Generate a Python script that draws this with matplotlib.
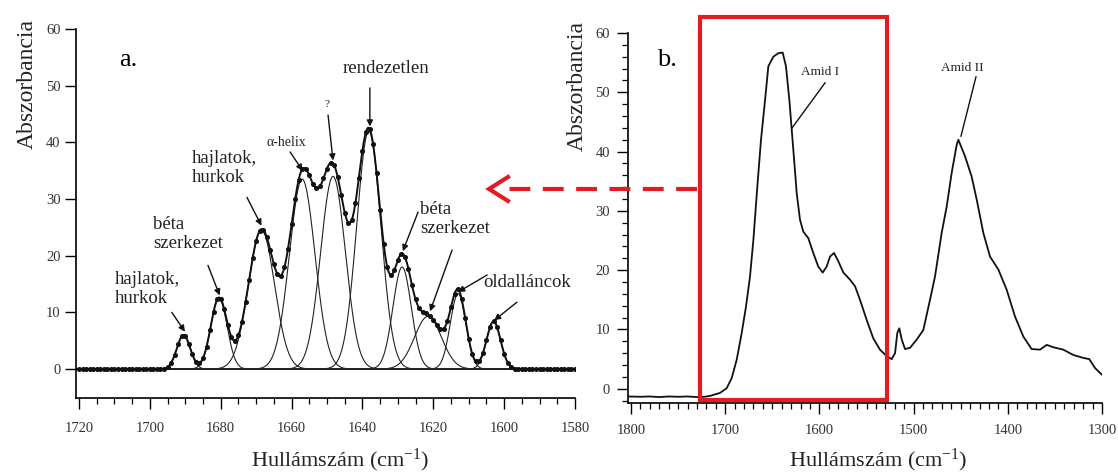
import matplotlib.pyplot as plt
import numpy as np
from matplotlib.lines import Line2D
from matplotlib.patches import Rectangle
from matplotlib.ticker import MultipleLocator

plt.rcParams['font.family'] = ['Liberation Serif', 'DejaVu Serif']
plt.rcParams['mathtext.fontset'] = 'custom'
plt.rcParams['mathtext.rm'] = 'Liberation Serif'
plt.rcParams['mathtext.it'] = 'Liberation Serif:italic'

# a. ábra: illesztett sávok (centrum cm-1, magasság, szélesség)
band_center = [1690.5, 1680.5, 1668.5, 1657.0, 1648.3, 1638.2, 1628.8, 1621.5, 1613.0, 1603.0]
band_height = [6.0, 12.5, 24.5, 33.5, 34.0, 42.0, 18.0, 9.3, 13.3, 8.4]
band_width = [1.9, 2.3, 3.7, 3.6, 3.5, 3.4, 2.6, 3.8, 2.2, 2.0]

# b. ábra: mért spektrum
spec_wn = [1803, 1790, 1780, 1770, 1760, 1750, 1740, 1730, 1722, 1716, 1705.5, 1698.4,
           1693.1, 1687.8, 1682.5, 1677.9, 1673.7, 1670.1, 1665.9, 1662.0, 1657.7,
           1654.2, 1648.9, 1643.6, 1639.0, 1635.5, 1631.9, 1629.4, 1626.6, 1624.1,
           1620.6, 1617.1, 1611.8, 1606.5, 1601.2, 1596.5, 1592.3, 1588.7, 1584.5,
           1579.9, 1574.6, 1567.5, 1562.2, 1556.9, 1549.8, 1542.8, 1535.7, 1528.6,
           1523.3, 1519.7, 1517.3, 1515.2, 1512.6, 1509.1, 1503.8, 1496.7, 1489.7,
           1482.6, 1477.3, 1470.2, 1464.9, 1459.6, 1454.3, 1452.5, 1445.4, 1438.4,
           1433.0, 1426.0, 1418.9, 1410.0, 1401.2, 1392.4, 1383.5, 1374.7, 1365.8,
           1358.7, 1351.7, 1341.1, 1330.5, 1319.8, 1313.5, 1307.4, 1300.3]
spec_abs = [-1.3, -1.35, -1.3, -1.4, -1.3, -1.35, -1.3, -1.4, -1.35, -1.2, -0.7, 0.1,
            1.8, 4.9, 9.4, 13.9, 18.9, 25.1, 34.1, 42.0, 48.7,
            54.4, 56.0, 56.6, 56.7, 54.4, 48.7, 43.7, 38.1, 33.0,
            28.5, 26.5, 25.4, 22.9, 20.6, 19.6, 20.6, 22.3, 22.9,
            21.5, 19.6, 18.4, 17.3, 15.0, 11.6, 8.5, 6.6, 5.5,
            5.0, 6.0, 9.4, 10.2, 8.3, 6.7, 6.9, 8.3, 9.9,
            15.0, 18.9, 26.3, 30.7, 36.4, 41.1, 42.0, 39.2, 35.8,
            31.9, 26.3, 22.3, 20.1, 16.7, 12.2, 8.8, 6.7, 6.6,
            7.4, 7.0, 6.6, 5.7, 5.2, 5.0, 3.5, 2.4]

W, H = 1118, 473
red = '#e31b23'
tick_col = '#333333'

fig = plt.figure(figsize=(W / 100, H / 100), dpi=100)
ax_a = fig.add_axes([76 / W, 1 - 398 / H, (575 - 76) / W, (398 - 29) / H])
ax_b = fig.add_axes([628 / W, 1 - 403 / H, (1102 - 628) / W, (403 - 33) / H])

# --- a. panel ---
wn_fine = np.linspace(1720.85, 1580, 1200)
wn_dots = np.arange(1720, 1579, -1.0)
total = np.zeros_like(wn_fine)
total_dots = np.zeros_like(wn_dots)
for c, h, s in zip(band_center, band_height, band_width):
    comp = h * np.exp(-(wn_fine - c) ** 2 / (2 * s ** 2))
    total += comp
    total_dots += h * np.exp(-(wn_dots - c) ** 2 / (2 * s ** 2))
    ax_a.plot(wn_fine, comp, color='#222222', lw=0.8)
ax_a.plot(wn_fine, total, color='#111111', lw=1.4)
ax_a.plot(wn_dots, total_dots, 'o', color='#111111', ms=2.6)

ax_a.set_xlim(1720.85, 1580)
ax_a.set_ylim(-5.1, 60)
ax_a.xaxis.set_major_locator(MultipleLocator(20))
ax_a.xaxis.set_minor_locator(MultipleLocator(5))
ax_a.yaxis.set_major_locator(MultipleLocator(10))

ann_kw = dict(fontsize=13.5, color='#222222')
arr_kw = dict(arrowstyle='-|>', color='#111111', lw=1.0, mutation_scale=9, shrinkA=0, shrinkB=0)

def label_arrow(ax, start, tip):
    ax.annotate('', xy=tip, xytext=start, arrowprops=arr_kw)

ax_a.text(1709.8, 14.1, 'hajlatok,\nhurkok', ha='left', va='center', linespacing=1.15, **ann_kw)
label_arrow(ax_a, (1693.8, 10.0), (1690.1, 6.6))
ax_a.text(1699.1, 23.9, 'béta\nszerkezet', ha='left', va='center', linespacing=1.15, **ann_kw)
label_arrow(ax_a, (1683.6, 18.3), (1680.3, 13.0))
ax_a.text(1688.1, 35.4, 'hajlatok,\nhurkok', ha='left', va='center', linespacing=1.15, **ann_kw)
label_arrow(ax_a, (1672.6, 30.3), (1668.5, 25.3))
ax_a.text(1661.6, 40.0, 'α-helix', ha='center', va='center', fontsize=10, color='#222222')
label_arrow(ax_a, (1660.4, 38.3), (1656.9, 35.0))
ax_a.text(1650.0, 46.6, '?', ha='center', va='center', fontsize=8, color='#222222')
label_arrow(ax_a, (1649.7, 44.8), (1648.3, 36.8))
ax_a.text(1633.4, 53.1, 'rendezetlen', ha='center', va='center', **ann_kw)
label_arrow(ax_a, (1637.9, 49.6), (1637.9, 42.8))
ax_a.text(1623.8, 26.5, 'béta\nszerkezet', ha='left', va='center', linespacing=1.15, **ann_kw)
label_arrow(ax_a, (1624.3, 27.7), (1628.6, 20.8))
label_arrow(ax_a, (1614.7, 21.0), (1620.9, 10.2))
ax_a.text(1606.0, 15.3, 'oldalláncok', ha='left', va='center', **ann_kw)
label_arrow(ax_a, (1604.8, 16.6), (1613.0, 13.6))
label_arrow(ax_a, (1596.4, 11.8), (1602.8, 8.6))
ax_a.text(1706.2, 54.5, 'a.', ha='center', va='center', fontsize=19)

# --- b. panel ---
ax_b.plot(spec_wn, spec_abs, color='#111111', lw=1.3)
ax_b.set_xlim(1803.2, 1300)
ax_b.set_ylim(-2.4, 60)
ax_b.xaxis.set_major_locator(MultipleLocator(100))
ax_b.xaxis.set_minor_locator(MultipleLocator(10))
ax_b.yaxis.set_major_locator(MultipleLocator(10))
ax_b.yaxis.set_minor_locator(MultipleLocator(2))

ax_b.text(1599.4, 53.5, 'Amid I', ha='center', va='center', fontsize=9.5, color='#222222')
ax_b.plot([1594.0, 1629.0], [51.6, 44.0], color='#111111', lw=1.0)
ax_b.text(1448.6, 54.1, 'Amid II', ha='center', va='center', fontsize=9.5, color='#222222')
ax_b.plot([1433.8, 1449.7], [52.6, 42.6], color='#111111', lw=1.0)
ax_b.text(1761.8, 55.5, 'b.', ha='center', va='center', fontsize=19)

ax_b.add_patch(Rectangle((1726.8, -1.85), 1528.2 - 1726.8, 62.7 + 1.85, fill=False,
                         edgecolor=red, lw=3, clip_on=False, zorder=5))

# közös tengelybeállítások
for ax in (ax_a, ax_b):
    for side in ('top', 'right'):
        ax.spines[side].set_visible(False)
    for side in ('left', 'bottom'):
        ax.spines[side].set_linewidth(1.2)
    ax.tick_params(which='major', length=8, width=1.0, labelsize=10.5, labelcolor=tick_col)
    ax.tick_params(which='minor', length=4, width=0.9)
    ax.set_ylabel('Abszorbancia', fontsize=17, color='#222222')
    ax.set_xlabel('Hullámszám (cm$^{-1}$)', fontsize=16, color='#222222')
ax_a.tick_params(axis='x', which='major', pad=9)
ax_a.tick_params(axis='y', which='major', pad=3)
ax_b.tick_params(axis='x', which='major', pad=7)
ax_b.tick_params(axis='y', which='major', pad=5)
ax_a.yaxis.set_label_coords(-0.076, 0.85)
ax_b.yaxis.set_label_coords(-0.085, 0.857)
ax_a.xaxis.set_label_coords(0.529, -0.133)
ax_b.xaxis.set_label_coords(0.527, -0.119)

# piros szaggatott nyíl a két panel között
y_arrow = 1 - 189 / H
fig.add_artist(Line2D([697 / W, 505 / W], [y_arrow, y_arrow], transform=fig.transFigure,
                      color=red, lw=3, linestyle=(0, (5, 3))))
fig.add_artist(Line2D([508 / W, 489 / W, 508 / W], [1 - 177 / H, y_arrow, 1 - 201 / H],
                      transform=fig.transFigure, color=red, lw=3, solid_joinstyle='miter'))

fig.savefig('out.png', dpi=100)
